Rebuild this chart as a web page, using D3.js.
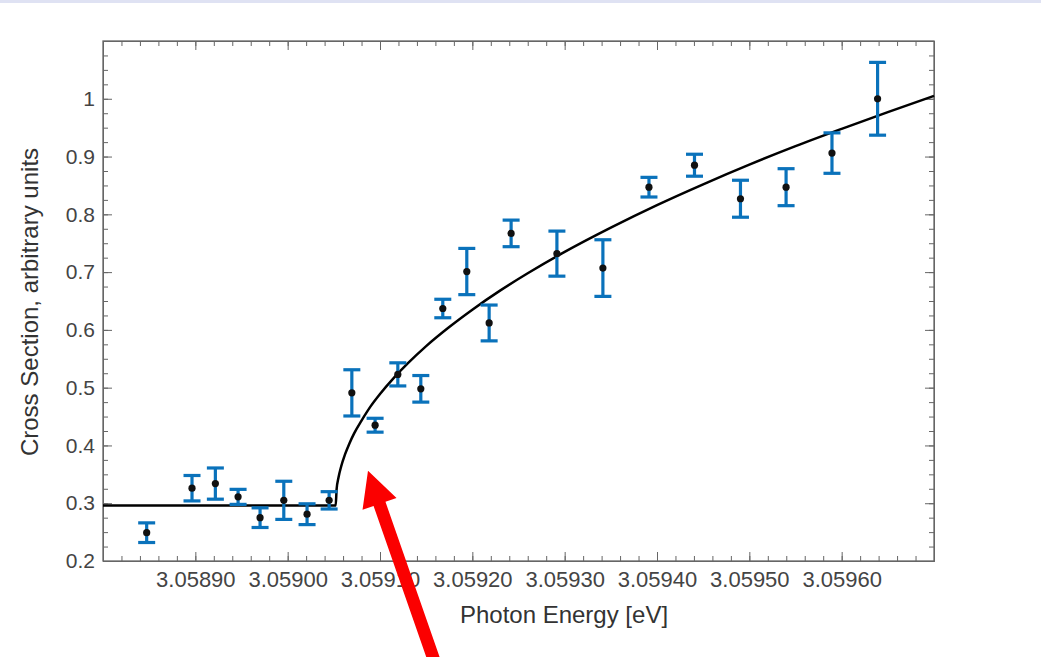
<!DOCTYPE html>
<html>
<head>
<meta charset="utf-8">
<script src="https://cdn.jsdelivr.net/npm/d3@7"></script>
<style>
  body { margin: 0; background: #fff; }
  svg { display: block; font-family: "Liberation Sans", Arial, sans-serif; }
  .axis path, .axis line { stroke: #666; }
  .axis text { fill: #444; }
  .axis-x text { font-size: 22px; }
  .axis-y text { font-size: 21px; }
</style>
</head>
<body>
<div id="chart"></div>
<script>
const width = 1041;
const height = 657;
const margin = {top: 41, right: 107, bottom: 96, left: 103};
const innerWidth = width - margin.left - margin.right;
const innerHeight = height - margin.top - margin.bottom;

// Measured points (photon energy in eV, cross section, error half-width)
const energies = [
  3.0588473, 3.0588964, 3.0589217, 3.0589463, 3.0589701, 3.0589958,
  3.0590210, 3.0590449, 3.0590695, 3.0590947, 3.0591193, 3.0591442,
  3.0591680, 3.0591940, 3.0592182, 3.0592420, 3.0592916, 3.0593414,
  3.0593913, 3.0594406, 3.0594904, 3.0595398, 3.0595895, 3.0596389
];
const crossSections = [
  0.249, 0.326, 0.334, 0.311, 0.275, 0.305,
  0.281, 0.305, 0.491, 0.435, 0.523, 0.498,
  0.637, 0.701, 0.612, 0.767, 0.732, 0.707,
  0.847, 0.885, 0.827, 0.847, 0.906, 1.000
];
const errors = [
  0.017, 0.022, 0.027, 0.013, 0.017, 0.033,
  0.018, 0.015, 0.040, 0.012, 0.020, 0.023,
  0.016, 0.040, 0.031, 0.023, 0.039, 0.049,
  0.017, 0.019, 0.032, 0.032, 0.035, 0.063
];

// Fit curve
const fitEnergies = [
  3.05880, 3.059052, 3.059053, 3.059055, 3.059058, 3.059062, 3.059067,
  3.059072, 3.059080, 3.059090, 3.059100, 3.059115, 3.059130, 3.059150,
  3.059175, 3.059200, 3.059230, 3.059260, 3.059300, 3.059350, 3.059400,
  3.059450, 3.059500, 3.059550, 3.059600, 3.059650, 3.059700
];
const fitValues = [
  0.296, 0.296, 0.324, 0.344, 0.364, 0.384, 0.404,
  0.421, 0.443, 0.468, 0.489, 0.517, 0.542, 0.572,
  0.605, 0.635, 0.668, 0.698, 0.735, 0.777, 0.816,
  0.852, 0.886, 0.918, 0.948, 0.977, 1.005
];

const xTickLabels = [3.05890, 3.05900, 3.05910, 3.05920, 3.05930, 3.05940, 3.05950, 3.05960];
const yTickLabels = [0.2, 0.3, 0.4, 0.5, 0.6, 0.7, 0.8, 0.9, 1];

const data = energies.map((e, i) => ({e: e, v: crossSections[i], err: errors[i]}));
const fit = fitEnergies.map((e, i) => ({e: e, v: fitValues[i]}));

const svg = d3.select("#chart")
  .append("svg")
    .attr("width", width)
    .attr("height", height);

// thin band at the top of the page
svg.append("rect")
  .attr("x", 0).attr("y", 0)
  .attr("width", width).attr("height", 3)
  .attr("fill", "#dfe2f3");

const innerChart = svg
  .append("g")
    .attr("transform", `translate(${margin.left}, ${margin.top})`);

// Scales
const xScale = d3.scaleLinear()
  .domain([3.05880, 3.05970])
  .range([0, innerWidth]);

const yScale = d3.scaleLinear()
  .domain([0.2, 1.1])
  .range([innerHeight, 0]);

const xMinor = d3.range(0, 46).map(i => 3.05880 + i * 0.00002);
const yMinor = d3.range(0, 37).map(i => 0.2 + i * 0.025);

// Frame
innerChart.append("rect")
  .attr("width", innerWidth)
  .attr("height", innerHeight)
  .attr("fill", "none")
  .attr("stroke", "#666")
  .attr("stroke-width", 1.3);

// Tick-only axes (no labels)
const tickAxis = (axis, transform) => {
  const g = innerChart.append("g")
    .attr("class", "axis")
    .attr("transform", transform)
    .call(axis.tickSizeOuter(0));
  g.selectAll("text").remove();
};

// Labelled axes
const bottomAxis = d3.axisBottom(xScale)
  .tickValues(xTickLabels)
  .tickFormat(d3.format(".5f"))
  .tickSize(-9)
  .tickSizeOuter(0)
  .tickPadding(10);
innerChart.append("g")
  .attr("class", "axis axis-x")
  .attr("transform", `translate(0, ${innerHeight})`)
  .call(bottomAxis);

const leftAxis = d3.axisLeft(yScale)
  .tickValues(yTickLabels)
  .tickFormat(d3.format("~g"))
  .tickSize(-9)
  .tickSizeOuter(0)
  .tickPadding(8);
innerChart.append("g")
  .attr("class", "axis axis-y")
  .call(leftAxis);

tickAxis(d3.axisBottom(xScale).tickValues(xMinor).tickSize(-5), `translate(0, ${innerHeight})`);
tickAxis(d3.axisTop(xScale).tickValues(xTickLabels).tickSize(-9), "translate(0, 0)");
tickAxis(d3.axisTop(xScale).tickValues(xMinor).tickSize(-5), "translate(0, 0)");
tickAxis(d3.axisLeft(yScale).tickValues(yMinor).tickSize(-5), "translate(0, 0)");
tickAxis(d3.axisRight(yScale).tickValues(yTickLabels).tickSize(-9), `translate(${innerWidth}, 0)`);
tickAxis(d3.axisRight(yScale).tickValues(yMinor).tickSize(-5), `translate(${innerWidth}, 0)`);

innerChart.selectAll(".axis path.domain").attr("stroke", "none");

// Axis titles
svg.append("text")
  .text("Photon Energy [eV]")
  .attr("x", 564)
  .attr("y", 623)
  .attr("text-anchor", "middle")
  .attr("font-size", 24)
  .attr("fill", "#333");

svg.append("text")
  .text("Cross Section, arbitrary units")
  .attr("transform", "translate(38, 302) rotate(-90)")
  .attr("text-anchor", "middle")
  .attr("font-size", 24)
  .attr("fill", "#333");

// Fit curve
const curveGenerator = d3.line()
  .x(d => xScale(d.e))
  .y(d => yScale(d.v))
  .curve(d3.curveMonotoneX);

innerChart.append("path")
  .attr("d", curveGenerator(fit))
  .attr("fill", "none")
  .attr("stroke", "#000")
  .attr("stroke-width", 2.5);

// Error bars
const capHalf = 8.5;
const bars = innerChart.append("g")
  .attr("class", "error-bars")
  .selectAll("g")
  .data(data)
  .join("g")
    .attr("stroke", "#0a72bb")
    .attr("stroke-width", 3.2);
bars.append("line")
  .attr("x1", d => xScale(d.e))
  .attr("x2", d => xScale(d.e))
  .attr("y1", d => yScale(d.v + d.err))
  .attr("y2", d => yScale(d.v - d.err));
bars.append("line")
  .attr("x1", d => xScale(d.e) - capHalf)
  .attr("x2", d => xScale(d.e) + capHalf)
  .attr("y1", d => yScale(d.v + d.err))
  .attr("y2", d => yScale(d.v + d.err));
bars.append("line")
  .attr("x1", d => xScale(d.e) - capHalf)
  .attr("x2", d => xScale(d.e) + capHalf)
  .attr("y1", d => yScale(d.v - d.err))
  .attr("y2", d => yScale(d.v - d.err));

// Points
innerChart.append("g")
  .selectAll("circle")
  .data(data)
  .join("circle")
    .attr("cx", d => xScale(d.e))
    .attr("cy", d => yScale(d.v))
    .attr("r", 3.6)
    .attr("fill", "#111");

// Red arrow pointing at the threshold
const tip = [margin.left + xScale(3.059087), margin.top + yScale(0.356)];
const dir = [0.3294, 0.9442];
const perp = [dir[1], -dir[0]];
const headLen = 35, headHalf = 18, shaftHalf = 6.3, tailLen = 230;
const pt = (along, side) => [
  tip[0] + dir[0] * along + perp[0] * side,
  tip[1] + dir[1] * along + perp[1] * side
];
const arrowPts = [
  pt(0, 0),
  pt(headLen, headHalf),
  pt(headLen, shaftHalf),
  pt(tailLen, shaftHalf),
  pt(tailLen, -shaftHalf),
  pt(headLen, -shaftHalf),
  pt(headLen, -headHalf)
];
svg.append("path")
  .attr("d", d3.line()(arrowPts) + "Z")
  .attr("fill", "#fb0000");
</script>
</body>
</html>
